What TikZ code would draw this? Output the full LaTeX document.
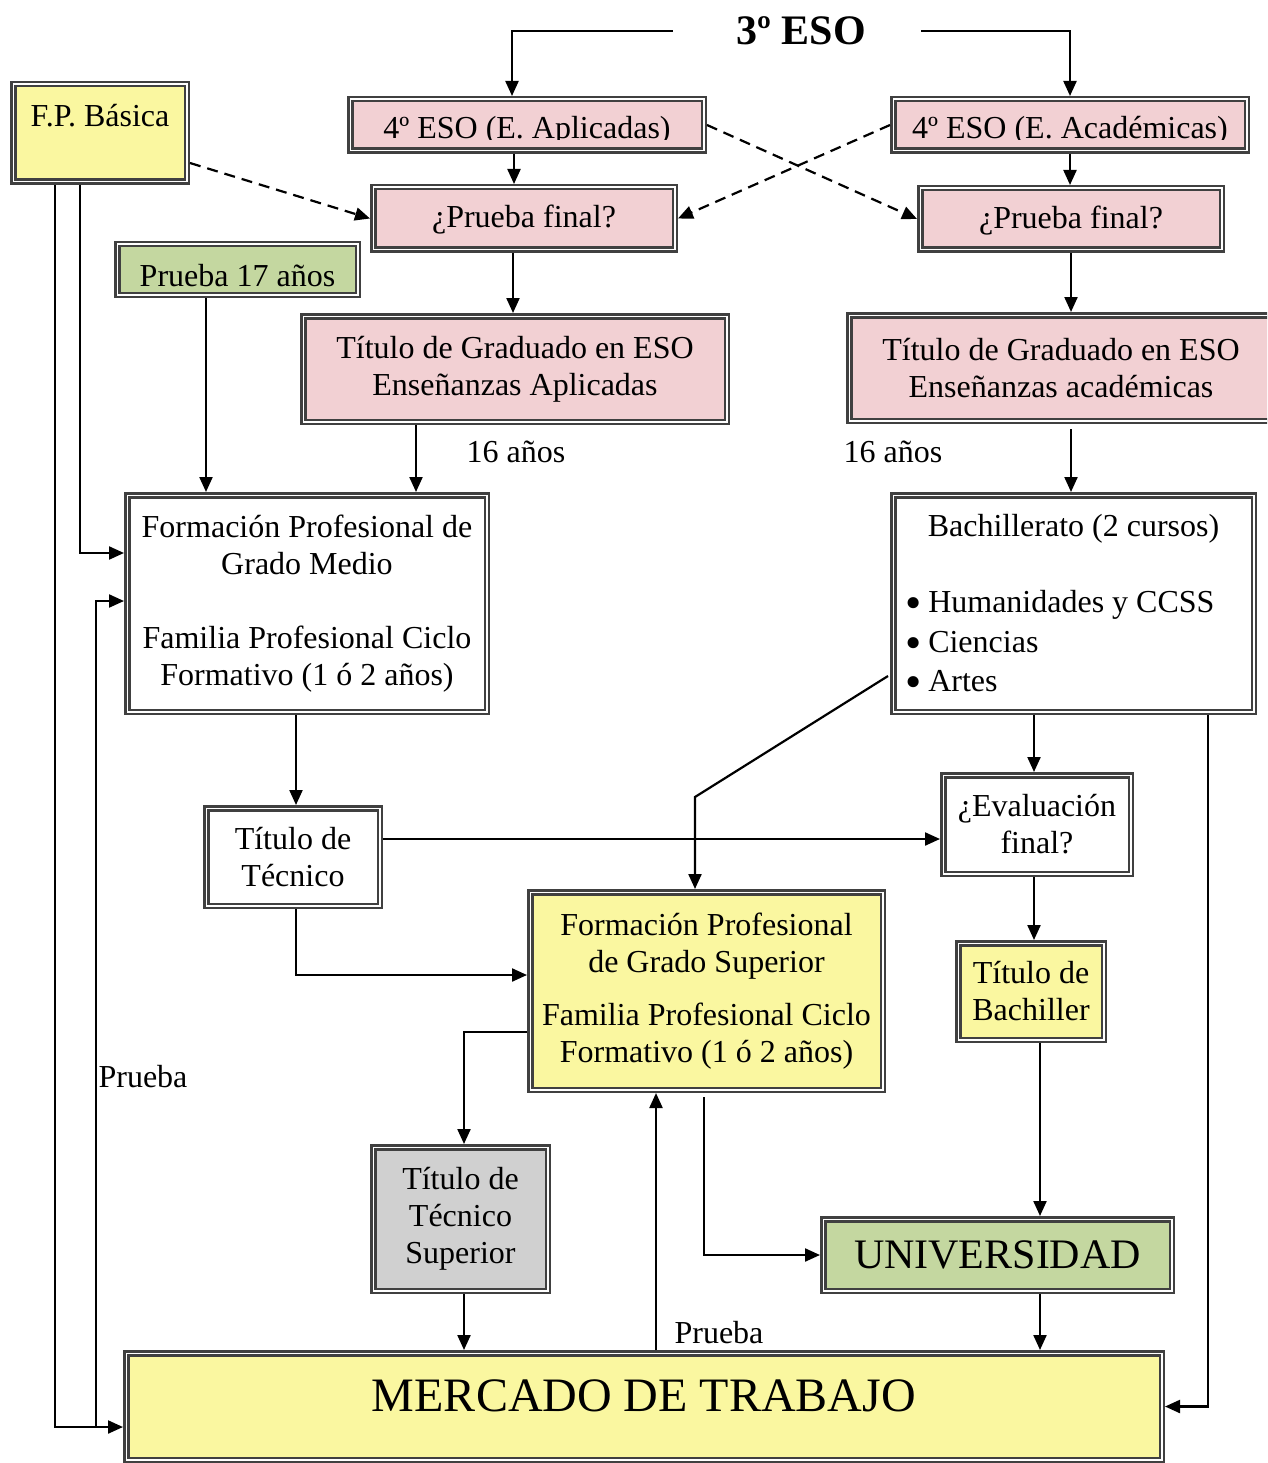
\documentclass[tikz,border=0pt]{standalone}
\usepackage{fontspec}
\setmainfont{Liberation Serif}
\usetikzlibrary{arrows.meta}
\definecolor{pinkc}{RGB}{242,208,211}
\definecolor{yellowc}{RGB}{250,247,160}
\definecolor{greenc}{RGB}{196,215,160}
\definecolor{grayc}{RGB}{208,208,208}
\definecolor{bordc}{RGB}{64,64,64}
\newcommand{\punto}{\raisebox{-6pt}[0pt][0pt]{\scalebox{1.45}{\textbullet}}\hspace{7pt}}
\begin{document}
\begin{tikzpicture}[x=1pt, y=-1pt, font=\fontsize{32}{37}\selectfont,
  box/.style={draw=bordc, double=white, double distance=1.5pt, line width=2.5pt, align=center, inner sep=0pt, outer sep=3.25pt},
  pinkbox/.style={box, fill=pinkc}, yellowbox/.style={box, fill=yellowc},
  greenbox/.style={box, fill=greenc}, graybox/.style={box, fill=grayc}, whitebox/.style={box, fill=white},
  arr/.style={-{Triangle[length=15pt,width=13pt]}, line width=2.2pt},
  dasharr/.style={arr, dash pattern=on 11pt off 7pt},
  lab/.style={inner sep=0pt}]
		\useasboundingbox (0,0) rectangle (1267,1463);
		\clip (0,0) rectangle (1267,1463);
		\node[lab, minimum width=248pt, font=\fontsize{42}{48}\selectfont\bfseries] (eso) at (801,31) {3º ESO};
		\node[yellowbox, minimum width=173.5pt, minimum height=97.5pt, text height=22pt, text depth=34pt] (fpb) at (100,133) {F.P. Básica};
		\node[pinkbox, minimum width=353.5pt, minimum height=51.5pt] (apl) at (527,125) {};
		\node[pinkbox, minimum width=353.5pt, minimum height=51.5pt] (aca) at (1070,125) {};
		\begin{scope}
			\clip (352,102) rectangle (702,140);
			\node[lab, anchor=base] (aplt) at (527,139) {4º ESO (E. Aplicadas)};
		\end{scope}
		\begin{scope}
			\clip (895,102) rectangle (1245,140);
			\node[lab, anchor=base] (acat) at (1070,139) {4º ESO (E. Académicas)};
		\end{scope}
		\node[pinkbox, minimum width=301.5pt, minimum height=62.5pt, text height=26pt, text depth=7pt] (pf1) at (524,218.5) {¿Prueba final?};
		\node[pinkbox, minimum width=301.5pt, minimum height=61.5pt, text height=26pt, text depth=7pt] (pf2) at (1071,219) {¿Prueba final?};
		\node[greenbox, minimum width=240.5pt, minimum height=50.5pt, text height=38pt, text depth=5pt] (p17) at (237.5,269.5) {Prueba 17 años};
		\node[pinkbox, minimum width=423.5pt, minimum height=105.5pt] (tga) at (515,369) {Título de Graduado en ESO\\Enseñanzas Aplicadas};
		\node[pinkbox, minimum width=423.5pt, minimum height=105.5pt] (tgc) at (1061,368) {Título de Graduado en ESO\\Enseñanzas académicas};
		\node[lab] (edad1) at (516,452) {16 años};
		\node[lab] (edad2) at (893,452) {16 años};
		\node[whitebox, minimum width=359.5pt, minimum height=216.5pt] (fgm) at (307,603.5) {Formación Profesional de\\Grado Medio\\[37pt]Familia Profesional Ciclo\\Formativo (1 ó 2 años)};
		\node[whitebox, minimum width=360.5pt, minimum height=216.5pt] (bach) at (1073.5,603.5) {Bachillerato (2 cursos)\\[39pt]\makebox[337pt][l]{\punto Humanidades y CCSS}\\[2.5pt]\makebox[337pt][l]{\punto Ciencias}\\[2.5pt]\makebox[337pt][l]{\punto Artes}};
		\node[whitebox, minimum width=173.5pt, minimum height=97.5pt] (ttec) at (293,857) {Título de\\Técnico};
		\node[whitebox, minimum width=187.5pt, minimum height=98.5pt] (evf) at (1037,824.5) {¿Evaluación\\final?};
		\node[yellowbox, minimum width=352.5pt, minimum height=197.5pt] (fgs) at (706.5,991) {Formación Profesional\\de Grado Superior\\[16pt]Familia Profesional Ciclo\\Formativo (1 ó 2 años)};
		\node[yellowbox, minimum width=145.5pt, minimum height=96.5pt] (tbach) at (1031,991.5) {Título de\\Bachiller};
		\node[graybox, minimum width=174.5pt, minimum height=143.5pt] (tts) at (460.5,1219) {Título de\\Técnico\\Superior};
		\node[greenbox, minimum width=348.5pt, minimum height=71.5pt, font=\fontsize{42}{48}\selectfont] (univ) at (997.5,1255) {UNIVERSIDAD};
		\node[yellowbox, minimum width=1035.5pt, minimum height=106.5pt, text height=32pt, text depth=23pt, font=\fontsize{48}{55}\selectfont] (merc) at (644,1406.5) {MERCADO DE TRABAJO};
		\node[lab] (prueba1) at (143,1077) {Prueba};
		\node[lab] (prueba2) at (719,1333) {Prueba};
		\coordinate (junta) at (96,1427);
		\coordinate (codo) at (695,797);
		\draw[arr] ([xshift=-4pt]eso.west) -| ([xshift=-15pt]apl.north);
		\draw[arr] ([xshift=-4pt]eso.east) -| (aca.north);
		\draw[arr] ([xshift=-13pt]apl.south) -- ([xshift=-13pt]apl.south |- pf1.north);
		\draw[arr] (aca.south) -- (aca.south |- pf2.north);
		\draw[arr] ([xshift=-11pt]pf1.south) -- ([xshift=-11pt]pf1.south |- tga.north);
		\draw[arr] (pf2.south) -- (pf2.south |- tgc.north);
		\draw[dasharr] ([yshift=-30pt]fpb.east) -- (pf1.west);
		\draw[dasharr] (apl.east) -- (pf2.west);
		\draw[dasharr] (aca.west) -- (pf1.east);
		\draw[arr] ([xshift=-99pt]tga.south) -- ([xshift=-99pt]tga.south |- fgm.north);
		\draw[arr] ([xshift=10pt,yshift=-5pt]tgc.south) -- ([xshift=10pt]tgc.south |- bach.north);
		\draw[arr] ([xshift=-31.5pt]p17.south) -- ([xshift=-31.5pt]p17.south |- fgm.north);
		\draw[arr] ([xshift=-20pt]fpb.south) |- ([yshift=50.5pt]fgm.west);
		\draw[arr] ([xshift=-45pt]fpb.south) |- ([yshift=-20.5pt]merc.west);
		\draw[arr] (junta) |- ([yshift=2.5pt]fgm.west);
		\draw[arr] ([xshift=-11pt]fgm.south) -- ([xshift=-11pt]fgm.south |- ttec.north);
		\draw[arr] ([yshift=18pt]ttec.east) -- ([yshift=18pt]ttec.east -| evf.west);
		\draw[arr] ([xshift=3pt]ttec.south) |- ([yshift=16pt]fgs.west);
		\draw[arr] ([xshift=-2pt,yshift=-72.5pt]bach.west) -- (codo) -- ([xshift=-11.5pt]fgs.north);
		\draw[arr] ([xshift=-39.5pt]bach.south) -- ([xshift=-39.5pt]bach.south |- evf.north);
		\draw[arr] ([xshift=-3pt]evf.south) -- ([xshift=-3pt]evf.south |- tbach.north);
		\draw[arr] ([xshift=9pt]tbach.south) -- ([xshift=9pt]tbach.south |- univ.north);
		\draw[arr] ([yshift=-41pt]fgs.west) -| ([xshift=3.5pt]tts.north);
		\draw[arr] ([xshift=-2.5pt,yshift=-4pt]fgs.south) |- (univ.west);
		\draw[arr] ([xshift=12pt]merc.north) -- ([xshift=12pt]merc.north |- fgs.south);
		\draw[arr] ([xshift=3.5pt]tts.south) -- ([xshift=3.5pt]tts.south |- merc.north);
		\draw[arr] ([xshift=42.5pt]univ.south) -- ([xshift=42.5pt]univ.south |- merc.north);
		\draw[arr] ([xshift=134.5pt]bach.south) |- (merc.east);
\end{tikzpicture}
\end{document}
